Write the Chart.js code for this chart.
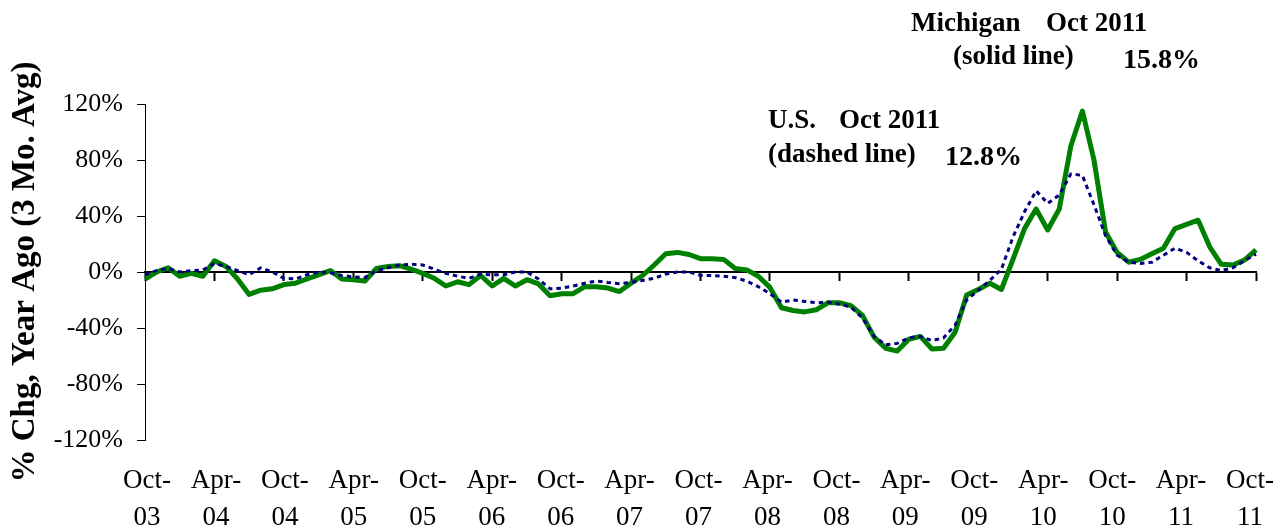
<!DOCTYPE html>
<html>
<head>
<meta charset="utf-8">
<script src="https://cdn.jsdelivr.net/npm/chart.js@4.4.1/dist/chart.umd.min.js"></script>
<style>
html,body{margin:0;padding:0;background:#fff;}
#wrap{width:1286px;height:527px;position:relative;}
</style>
</head>
<body>
<div id="wrap"><canvas id="c" width="1286" height="527"></canvas></div>
<script>
const months = [
  'Oct-03','Nov-03','Dec-03',
  'Jan-04','Feb-04','Mar-04','Apr-04','May-04','Jun-04','Jul-04','Aug-04','Sep-04','Oct-04','Nov-04','Dec-04',
  'Jan-05','Feb-05','Mar-05','Apr-05','May-05','Jun-05','Jul-05','Aug-05','Sep-05','Oct-05','Nov-05','Dec-05',
  'Jan-06','Feb-06','Mar-06','Apr-06','May-06','Jun-06','Jul-06','Aug-06','Sep-06','Oct-06','Nov-06','Dec-06',
  'Jan-07','Feb-07','Mar-07','Apr-07','May-07','Jun-07','Jul-07','Aug-07','Sep-07','Oct-07','Nov-07','Dec-07',
  'Jan-08','Feb-08','Mar-08','Apr-08','May-08','Jun-08','Jul-08','Aug-08','Sep-08','Oct-08','Nov-08','Dec-08',
  'Jan-09','Feb-09','Mar-09','Apr-09','May-09','Jun-09','Jul-09','Aug-09','Sep-09','Oct-09','Nov-09','Dec-09',
  'Jan-10','Feb-10','Mar-10','Apr-10','May-10','Jun-10','Jul-10','Aug-10','Sep-10','Oct-10','Nov-10','Dec-10',
  'Jan-11','Feb-11','Mar-11','Apr-11','May-11','Jun-11','Jul-11','Aug-11','Sep-11','Oct-11'
];

// Michigan, % change year ago (3-mo avg) - solid line
const michigan = [
  -5, 0, 3, -3, -1, -3, 8, 4, -5, -16,
  -13, -12, -9, -8, -5, -2, 1, -5, -5.5, -6.5,
  2.5, 4, 4.5, 2, -1, -4.5, -10, -7, -9, -2.5,
  -10, -4.5, -10, -5.5, -8.5, -17, -15.5, -15.5, -10.5, -10.5,
  -11.5, -14, -8, -2.5, 5, 13, 14, 12.5, 9.5, 9.5,
  9, 2.5, 1.5, -3, -11, -25.5, -27.5, -28.5, -27, -22,
  -22, -24, -31, -46.5, -54.5, -56.5, -48, -46, -55, -54.5,
  -43, -16.5, -12.5, -8, -12.5, 9, 31, 45, 30, 45,
  90, 115, 80, 28.6, 14, 7, 9, 13, 17, 31,
  34, 37, 18, 5.5, 5, 8.5, 15.8
];

// U.S., % change year ago (3-mo avg) - dashed line
const us = [
  -2, 1, 2.5, 0, 1, 1.5, 6, 4, 1, -2,
  3, 0, -4.5, -5, -2, 0, -0.5, -2.5, -3.5, -4,
  1, 3, 5, 5.5, 5, 2, -1, -3, -4.5, -1.5,
  -2, -2, 0, 0, -5, -12, -11.5, -10, -8, -6.5,
  -7.5, -8.3, -7.5, -6, -4.5, -1.5, 0, 0, -2.4, -2.5,
  -3, -4, -6.5, -10.5, -15.5, -21.5, -20, -21, -22, -21.5,
  -23, -25, -33, -46, -52, -51, -47, -46, -49, -47,
  -38, -20, -13, -6, 2, 25, 43, 58, 49, 55,
  70, 69, 48, 26, 12, 7, 6, 7, 12, 17,
  14, 8, 3, 1, 3, 8, 12.8
];

const tickTop = ['Oct-','Apr-','Oct-','Apr-','Oct-','Apr-','Oct-','Apr-','Oct-','Apr-','Oct-','Apr-','Oct-','Apr-','Oct-','Apr-','Oct-'];
const tickBottom = ['03','04','04','05','05','06','06','07','07','08','08','09','09','10','10','11','11'];
const yTicks = [-120, -80, -40, 0, 40, 80, 120];
const yTitle = '% Chg, Year Ago (3 Mo. Avg)';

const SERIF = '"Liberation Serif", "Times New Roman", serif';

const notesPlugin = {
  id: 'notes',
  afterDraw(chart) {
    const ctx = chart.ctx;
    const last = a => a[a.length - 1].toFixed(1) + '%';
    const items = [
      {t: 'Michigan', x: 911, y: 31, s: 27},
      {t: 'Oct 2011', x: 1046, y: 31, s: 27},
      {t: '(solid line)', x: 953, y: 64, s: 27},
      {t: last(michigan), x: 1123, y: 68, s: 28},
      {t: 'U.S.', x: 768, y: 128, s: 27},
      {t: 'Oct 2011', x: 839, y: 128, s: 27},
      {t: '(dashed line)', x: 768, y: 162, s: 27},
      {t: last(us), x: 945, y: 165, s: 28}
    ];
    ctx.save();
    ctx.fillStyle = '#000';
    ctx.textAlign = 'left';
    ctx.textBaseline = 'alphabetic';
    items.forEach(it => {
      ctx.font = 'bold ' + it.s + 'px ' + SERIF;
      ctx.fillText(it.t, it.x, it.y);
    });
    ctx.restore();
  }
};

new Chart(document.getElementById('c'), {
  type: 'line',
  data: {
    labels: months,
    datasets: [
      {
        label: 'U.S.',
        data: us,
        xAxisID: 'x',
        yAxisID: 'y',
        borderColor: '#000080',
        borderWidth: 3,
        borderDash: [4.5, 4],
        pointRadius: 0,
        tension: 0,
        fill: false,
        order: 0
      },
      {
        label: 'Michigan',
        data: michigan,
        xAxisID: 'x',
        yAxisID: 'y',
        borderColor: '#008000',
        borderWidth: 5,
        borderJoinStyle: 'round',
        pointRadius: 0,
        tension: 0,
        fill: false,
        order: 1
      }
    ]
  },
  options: {
    responsive: false,
    animation: false,
    devicePixelRatio: 1,
    layout: {padding: {top: 104, right: 30, bottom: 0, left: 0}},
    plugins: {legend: {display: false}, tooltip: {enabled: false}},
    scales: {
      x: {
        type: 'category',
        offset: false,
        position: {y: 0},
        border: {display: true, color: '#000', width: 2},
        grid: {
          drawOnChartArea: false,
          drawTicks: true,
          tickLength: 8,
          tickWidth: 2,
          tickColor: c => (c.index % 6 === 0 ? '#000' : 'rgba(0,0,0,0)'),
          color: 'rgba(0,0,0,0)'
        },
        ticks: {display: false, autoSkip: false},
        afterFit: s => { s.paddingLeft = 0; s.paddingRight = 0; }
      },
      xl: {
        type: 'linear',
        position: 'bottom',
        min: -0.174,
        max: 96.52,
        afterBuildTicks: s => { s.ticks = tickTop.map((t, i) => ({value: i * 6})); },
        grid: {display: false, drawTicks: false},
        border: {display: false},
        ticks: {
          autoSkip: false,
          maxRotation: 0,
          minRotation: 0,
          padding: 23,
          color: '#000',
          font: {family: SERIF, size: 27, lineHeight: 1.36},
          callback: (v, i) => [tickTop[i], tickBottom[i]]
        },
        afterFit: s => { s.height = 87; s.paddingLeft = 0; s.paddingRight = 0; }
      },
      y: {
        min: -120,
        max: 120,
        afterBuildTicks: s => { s.ticks = yTicks.map(v => ({value: v})); },
        border: {display: true, color: '#000', width: 1},
        grid: {drawOnChartArea: false, drawTicks: true, tickLength: 8, color: '#000'},
        ticks: {
          padding: 14,
          color: '#000',
          font: {family: SERIF, size: 26},
          callback: v => v + '%'
        },
        title: {
          display: true,
          text: yTitle,
          color: '#000',
          font: {family: SERIF, size: 33, weight: 'bold'},
          padding: {top: 6, bottom: 0}
        },
        afterFit: s => { s.width = 145; s.paddingTop = 0; s.paddingBottom = 0; }
      }
    }
  },
  plugins: [notesPlugin]
});
</script>
</body>
</html>
